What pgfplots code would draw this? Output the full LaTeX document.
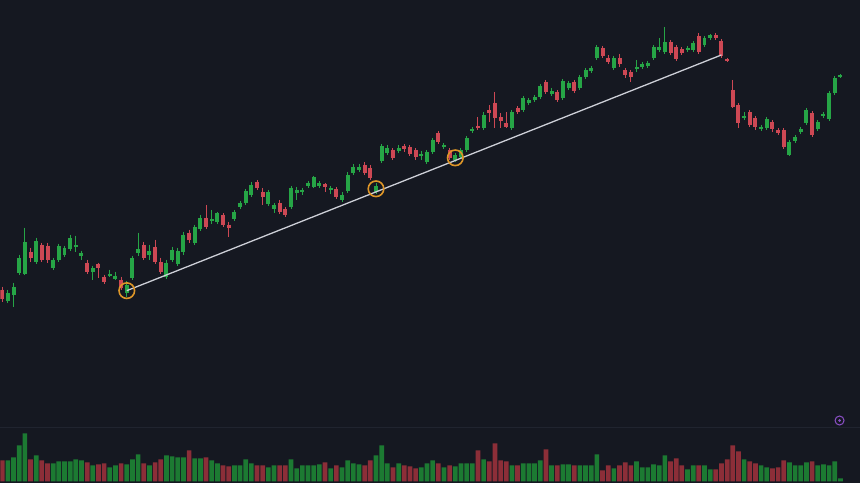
\documentclass[border=0pt]{standalone}
\usepackage{pgfplots}
\usepackage{pgfplotstable}
\pgfplotsset{compat=1.18}
\definecolor{bg}{RGB}{21,24,33}
\definecolor{sep}{RGB}{32,36,47}
\definecolor{cup}{RGB}{38,165,70}
\definecolor{cdn}{RGB}{205,72,84}
\definecolor{vup}{RGB}{28,122,50}
\definecolor{vdn}{RGB}{140,46,56}
\definecolor{trend}{RGB}{205,207,215}
\definecolor{ring}{RGB}{222,150,40}
\definecolor{logo}{RGB}{140,80,200}

% candle prices in screen units (larger = lower), v = volume bar height
% rising candles
\pgfplotstableread{
i o h l c v
1 301 290 303 293 21
2 295 283 307 287 24
3 273 255 275 258 36
4 274 228 275 242 48
6 262 238 264 241 26
9 268 258 270 260 18
10 260 244 262 246 20
11 255 246 257 248 20
12 249 235 251 238 20
13 247 236 252 246 22
14 256 251 260 253 21
16 272 266 280 268 16
19 276 270 277 274 14
20 279 272 280 276 16
22 293 281 297 285 17
23 278 256 280 258 22
24 253 233 256 249 27
26 255 245 260 251 16
29 277 260 279 263 26
30 260 247 262 250 25
31 264 248 266 251 24
32 252 232 255 235 24
34 243 225 245 227 23
35 229 215 231 218 23
37 221 210 224 219 21
38 222 212 224 213 18
41 219 210 221 212 16
42 207 201 209 203 16
43 203 189 205 191 22
44 195 182 197 185 18
47 204 190 206 192 14
48 209 203 213 205 16
51 207 186 209 188 22
52 193 187 200 190 13
53 192 188 195 190 16
54 186 181 188 183 16
55 187 176 188 177 16
56 186 181 188 183 17
58 190 186 194 188 13
60 200 192 202 195 14
61 191 172 193 175 21
62 173 164 175 167 18
63 170 164 172 167 17
66 192 183 194 186 26
67 161 144 163 146 36
68 153 145 155 148 18
70 151 145 153 148 18
74 156 151 160 154 14
75 162 150 164 152 18
76 152 138 154 140 21
78 147 143 149 145 14
80 160 153 162 155 15
81 157 148 159 150 18
82 150 136 152 138 18
83 131 127 133 129 18
85 128 112 130 115 22
90 128 110 130 112 16
92 110 96 112 98 18
93 103 98 105 100 18
94 100 95 102 97 18
95 97 84 99 86 21
97 94 88 96 91 16
99 98 79 100 81 17
100 88 81 90 83 17
102 88 75 90 77 16
103 77 68 79 70 16
104 71 66 73 68 16
105 58 45 60 47 27
108 68 56 70 58 13
112 69 60 72 67 20
113 67 62 69 64 14
114 66 61 68 63 14
115 58 45 60 47 17
116 50 38 52 47 16
117 52 27 54 42 26
121 50 46 52 48 12
122 50 41 52 43 16
124 45 36 47 38 16
125 38 34 40 35 12
131 118 112 120 116 22
134 129 125 131 127 16
135 128 117 130 119 14
139 155 140 156 142 19
140 141 135 143 137 16
141 132 127 134 129 16
142 123 108 125 110 19
144 129 120 131 122 16
145 116 112 118 114 17
146 119 91 121 93 16
147 93 76 95 78 20
148 77 74 78 75 3
}\upcandles

% falling candles
\pgfplotstableread{
i o h l c v
0 290 287 302 299 21
5 252 248 262 258 22
7 245 243 262 260 21
8 246 243 263 260 18
15 263 260 274 272 19
17 264 263 278 268 17
18 277 275 284 282 18
21 280 277 290 288 18
25 245 242 260 258 18
27 247 240 264 262 19
28 262 258 274 272 22
33 233 230 243 240 31
36 218 205 229 227 24
39 215 213 227 225 16
40 225 222 237 228 15
45 182 180 190 188 16
46 192 188 205 197 16
49 203 200 214 212 16
50 209 207 217 215 16
57 184 183 192 187 19
59 189 187 199 197 16
64 165 162 175 173 16
65 168 165 180 178 21
69 150 148 160 158 14
71 146 144 152 149 16
72 147 145 156 154 15
73 150 148 160 157 13
77 133 131 144 142 18
79 150 148 160 158 16
84 126 117 130 128 31
86 110 105 122 113 20
87 103 92 128 118 38
88 117 113 128 121 21
89 123 112 128 127 20
91 108 106 114 112 16
96 82 80 94 92 32
98 92 90 102 100 16
101 82 80 93 91 16
106 48 46 58 56 11
107 58 55 64 62 16
109 58 54 67 64 16
110 70 68 78 75 19
111 72 70 82 77 16
118 42 40 55 53 20
119 47 45 61 59 23
120 49 47 55 53 16
123 36 33 54 52 16
126 35 33 40 38 12
127 41 39 58 56 18
128 59 58 62 61 22
129 90 80 108 107 36
130 105 103 128 123 30
132 112 110 127 125 20
133 118 116 130 127 18
136 122 120 132 129 13
137 130 128 135 133 14
138 130 128 149 147 21
143 113 111 137 135 20
}\dncandles

\begin{document}
\begin{tikzpicture}
\fill[bg] (0,0) rectangle (860pt,484pt);
\draw[sep, line width=1pt] (0,56pt) -- (860pt,56pt);
% volume pane
\begin{axis}[
  at={(0,0)}, anchor=south west,
  scale only axis, width=860pt, height=484pt,
  xmin=-0.3, xmax=151.37, ymin=-2, ymax=482,
  hide axis, clip=true,
  ybar, bar width=4.7pt, bar shift=0pt,
]
\addplot[fill=vup, draw=none] table[x=i, y=v] {\upcandles};
\addplot[fill=vdn, draw=none] table[x=i, y=v] {\dncandles};
\end{axis}
% price pane
\begin{axis}[
  at={(0,0)}, anchor=south west,
  scale only axis, width=860pt, height=484pt,
  xmin=-0.3, xmax=151.37, ymin=0, ymax=484, y dir=reverse,
  hide axis, clip=true,
]
% wicks: from high to low
\addplot[cup, line width=1pt, quiver={u=0, v=\thisrow{l}-\thisrow{h}}]
  table[x=i, y=h] {\upcandles};
\addplot[cdn, line width=1pt, quiver={u=0, v=\thisrow{l}-\thisrow{h}}]
  table[x=i, y=h] {\dncandles};
% bodies: from open to close
\addplot[cup, line width=4pt, quiver={u=0, v={min(\thisrow{c}-\thisrow{o},-1.5)}}]
  table[x=i, y=o] {\upcandles};
\addplot[cdn, line width=4pt, quiver={u=0, v={max(\thisrow{c}-\thisrow{o},1.5)}}]
  table[x=i, y=o] {\dncandles};
% trend line and touch points
\addplot[trend, line width=1.3pt, mark=none] coordinates {(22,291) (127,55)};
\addplot[only marks, mark=o, mark size=7.8pt, mark options={draw=ring, line width=1.6pt}]
  coordinates {(22,291) (66,189) (80,158)};
\end{axis}
\draw[logo, line width=1pt] (840pt,63pt) circle (4.5pt);
\fill[logo] (840pt,63pt) circle (1.5pt);
\end{tikzpicture}
\end{document}
